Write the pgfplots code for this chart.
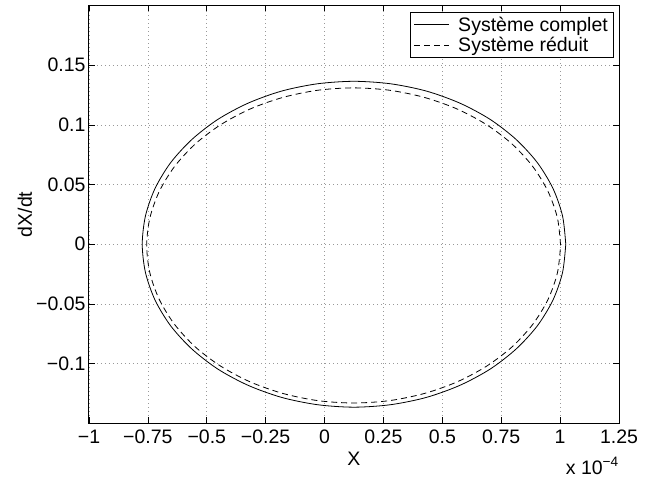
\documentclass[border=0pt]{standalone}
\usepackage{pgfplots}
\pgfplotsset{compat=1.18}
\usepackage{fontspec}
\setmainfont{Liberation Sans}
\newcommand{\lblfont}{\fontsize{19.5bp}{23bp}\selectfont}
\begin{document}
\begin{tikzpicture}
\begin{axis}[
  scale only axis,
  width=530bp, height=417.8bp,
  xmin=-1, xmax=1.25, ymin=-0.15, ymax=0.2,
  xtick={-1,-0.75,-0.5,-0.25,0,0.25,0.5,0.75,1,1.25},
  xticklabels={−1,−0.75,−0.5,−0.25,0,0.25,0.5,0.75,1,1.25},
  ytick={-0.1,-0.05,0,0.05,0.1,0.15},
  yticklabels={−0.1,−0.05,0,0.05,0.1,0.15},
  tick align=inside,
  major tick length=6bp,
  tick style={black, line width=0.6bp},
  axis line style={line width=1bp},
  grid=major,
  major grid style={dash pattern=on 0.7bp off 3.3bp, gray!80, line width=0.7bp},
  tick label style={font=\lblfont},
  xticklabel style={yshift=-3bp},
  xlabel={X},
  ylabel={dX/dt},
  every axis x label/.style={at={(axis description cs:0.5,-0.0838)},anchor=center,font=\lblfont},
  every axis y label/.style={at={(axis description cs:-0.1208,0.5)},rotate=90,anchor=center,font=\lblfont},
  legend style={at={(0.99,0.985)}, anchor=north east, draw=black, line width=0.8bp,
    font=\lblfont, inner xsep=4bp, inner ysep=3bp, row sep=1.5bp,
    nodes={inner sep=1.5bp},
    /tikz/every odd column/.append style={column sep=7bp}},
  legend cell align=left,
  legend image code/.code={\draw[#1] (6bp,0bp) -- (41bp,0bp);},
]
\addplot[black, line width=0.8bp, smooth] coordinates {
(1.024,0) (1.0103,0.0237) (0.9698,0.0467) (0.9035,0.0683) (0.8136,0.0877)
(0.7029,0.1046) (0.5745,0.1182) (0.4325,0.1283) (0.2811,0.1344) (0.125,0.1365)
(-0.0311,0.1344) (-0.1825,0.1283) (-0.3245,0.1182) (-0.4529,0.1046) (-0.5636,0.0877)
(-0.6535,0.0683) (-0.7198,0.0467) (-0.7603,0.0237) (-0.774,0)
(-0.7603,-0.0237) (-0.7198,-0.0467) (-0.6535,-0.0683) (-0.5636,-0.0877) (-0.4529,-0.1046)
(-0.3245,-0.1182) (-0.1825,-0.1283) (-0.0311,-0.1344) (0.125,-0.1365) (0.2811,-0.1344)
(0.4325,-0.1283) (0.5745,-0.1182) (0.7029,-0.1046) (0.8136,-0.0877) (0.9035,-0.0683)
(0.9698,-0.0467) (1.0103,-0.0237) (1.024,0)
};
\addlegendentry{Système complet}
\addplot[black, line width=0.8bp, dash pattern=on 6bp off 4bp, smooth] coordinates {
(1.002,-0.001) (0.9887,0.0219) (0.949,0.0441) (0.8843,0.065) (0.7964,0.0839)
(0.6882,0.1001) (0.5628,0.1133) (0.4239,0.123) (0.276,0.129) (0.1235,0.131)
(-0.029,0.129) (-0.1769,0.123) (-0.3158,0.1133) (-0.4412,0.1001) (-0.5494,0.0839)
(-0.6373,0.065) (-0.702,0.0441) (-0.7417,0.0219) (-0.755,-0.001)
(-0.7417,-0.0239) (-0.702,-0.0461) (-0.6373,-0.067) (-0.5494,-0.0859) (-0.4412,-0.1021)
(-0.3158,-0.1153) (-0.1769,-0.125) (-0.029,-0.131) (0.1235,-0.133) (0.276,-0.131)
(0.4239,-0.125) (0.5628,-0.1153) (0.6882,-0.1021) (0.7964,-0.0859) (0.8843,-0.067)
(0.949,-0.0461) (0.9887,-0.0239) (1.002,-0.001)
};
\addlegendentry{Système réduit}
\end{axis}
\node[anchor=base east, font=\lblfont, inner sep=0pt] at ([yshift=-51bp]current axis.south east) {x 10\textsuperscript{−4}};
\path ([xshift=-89bp,yshift=-60.7bp]current axis.south west) rectangle ([xshift=29bp,yshift=5.5bp]current axis.north east);
\end{tikzpicture}
\end{document}
